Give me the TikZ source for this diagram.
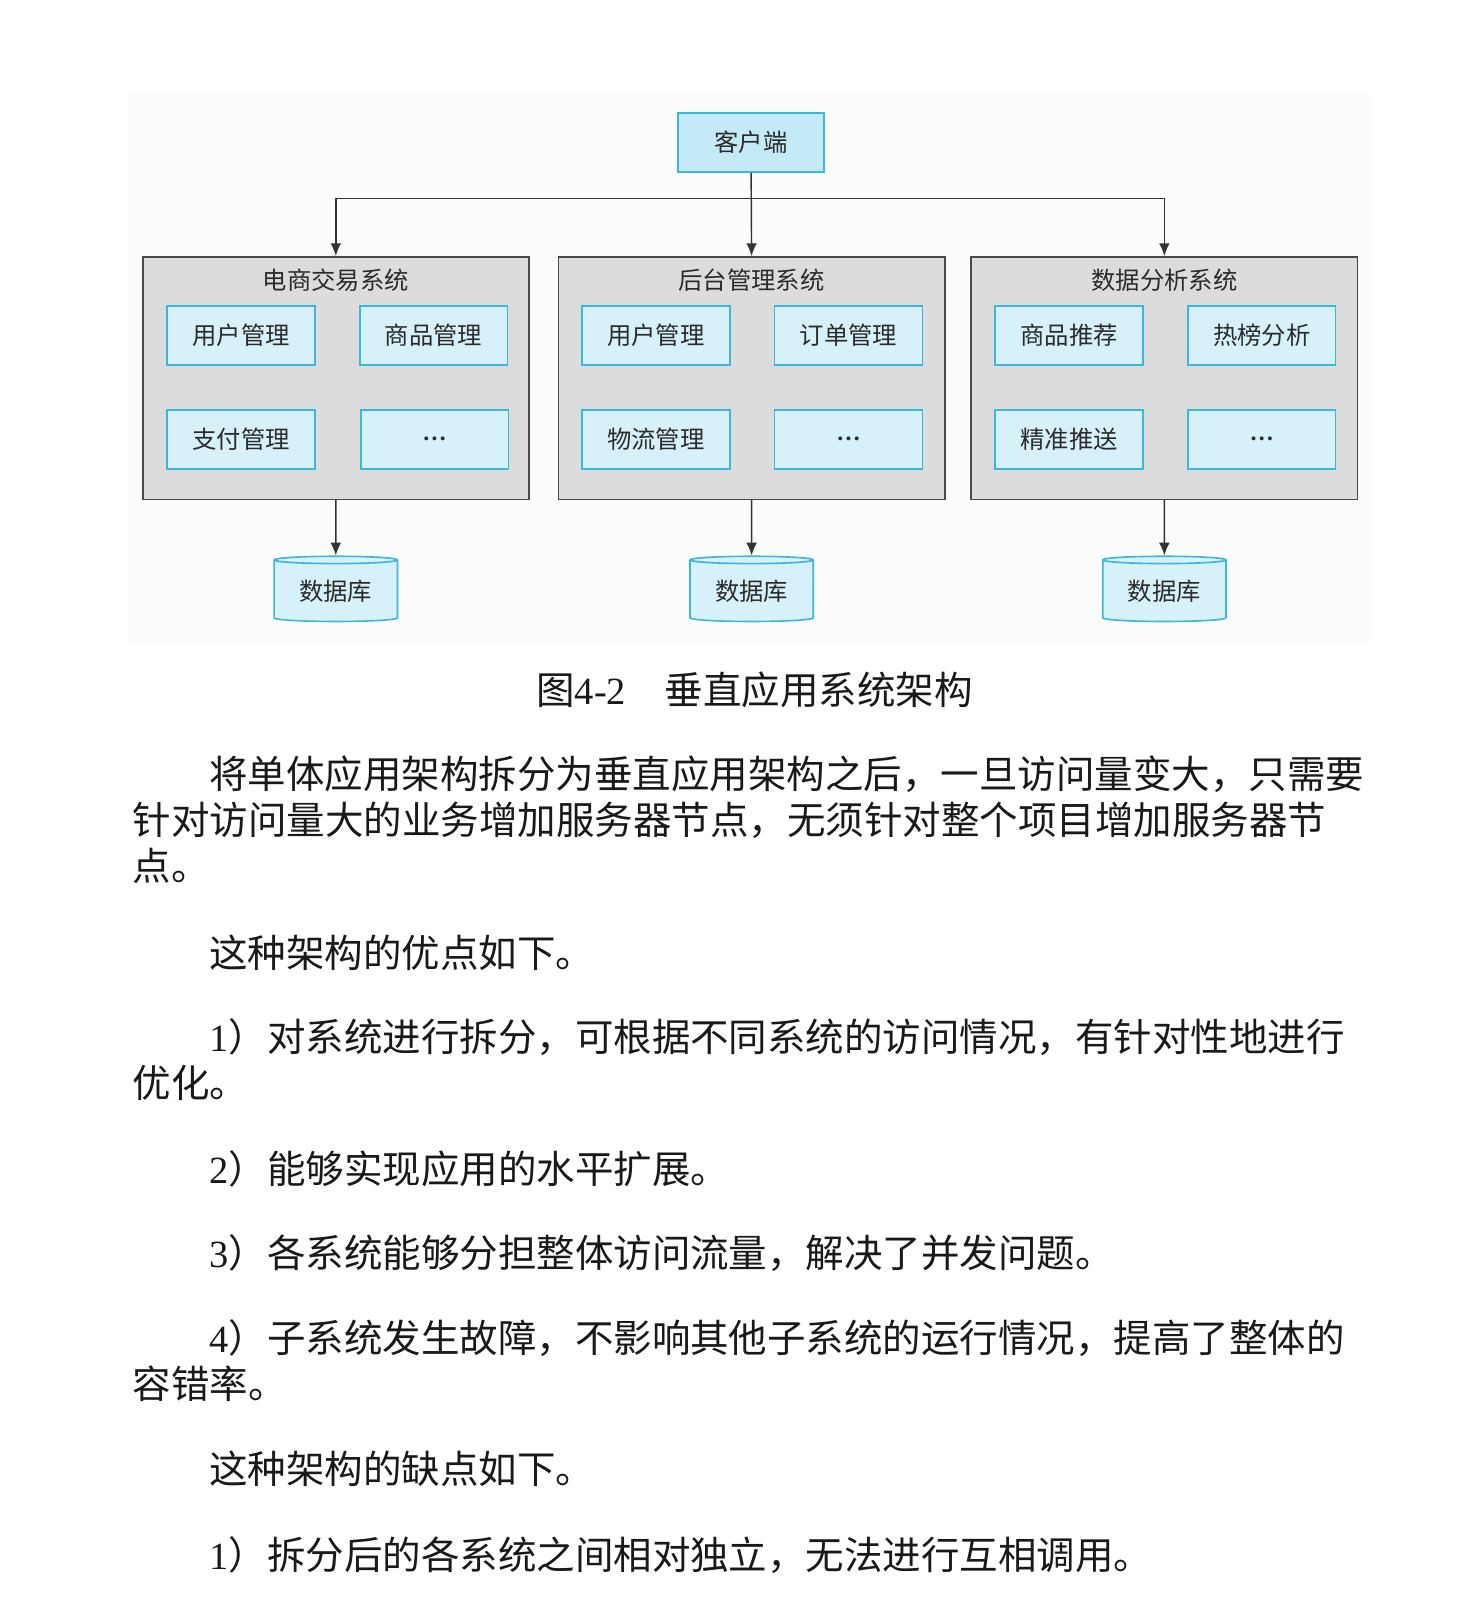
\documentclass[tikz,border=0pt]{standalone}
\usepackage{fontspec}
\setmainfont{Liberation Serif}
\newfontfamily\cjk{Noto Sans CJK SC}
\usepackage{xcolor}
\usepackage{tikz}
\usetikzlibrary{shapes.geometric, arrows.meta, positioning}

\definecolor{clientfill}{HTML}{C4EAF7}
\definecolor{modfill}{HTML}{D6F1F9}
\definecolor{cyanline}{HTML}{3DB6DA}
\definecolor{sysfill}{HTML}{DCDCDC}
\definecolor{sysline}{HTML}{4A4A4A}
\definecolor{figbg}{HTML}{FCFCFC}
\definecolor{inktext}{HTML}{2B2B2B}

\tikzset{
  clientbox/.style={
    draw=cyanline, fill=clientfill, line width=0.9pt, inner sep=0pt,
    minimum width=2.86cm, minimum height=1.16cm,
    font={\cjk\fontsize{13.6pt}{16pt}\selectfont}, text=inktext
  },
  modbox/.style={
    draw=cyanline, fill=modfill, line width=0.9pt, inner sep=0pt,
    minimum width=2.9cm, minimum height=1.16cm,
    font={\cjk\fontsize{13.6pt}{16pt}\selectfont}, text=inktext
  },
  sysbox/.style={
    draw=sysline, fill=sysfill, line width=0.9pt,
    minimum width=7.58cm, minimum height=4.76cm
  },
  systitle/.style={
    inner sep=0pt, font={\cjk\fontsize{13.6pt}{16pt}\selectfont}, text=inktext
  },
  dbnode/.style={
    cylinder, shape border rotate=90, aspect=0.1, draw=cyanline, fill=modfill,
    line width=0.9pt, inner sep=0pt, minimum width=2.42cm, minimum height=1.28cm,
    font={\cjk\fontsize{13.6pt}{16pt}\selectfont}, text=inktext
  },
  flowarrow/.style={
    -{Latex[length=2.5mm, width=2.1mm]}, line width=0.8pt, color=black!80
  },
  bodyline/.style={
    anchor=west, inner sep=0pt,
    font={\cjk\fontsize{21.5pt}{26pt}\selectfont}, text=black!90
  },
}
\newcommand{\moredots}{{\rmfamily\bfseries …}}

\begin{document}
\begin{tikzpicture}[x=0.02cm, y=-0.02cm]
  \useasboundingbox (0,0) rectangle (1441,1568);
  \fill[white] (0,0) rectangle (1441,1568);

  % === Figure area ===
  \fill[figbg] (127,91) rectangle (1345,631);

  % Client
  \node[clientbox] (client) at (737,140) {客户端};
  \coordinate (split) at (737,195);

  % === Three vertical systems ===
  \node[sysbox] (sys_trade) at (329.5,371) {};
  \node[systitle] (title_trade) at (329.5,275) {电商交易系统};
  \node[modbox] (trade_user) at (236.5,329) {用户管理};
  \node[modbox] (trade_goods) at (425.5,329) {商品管理};
  \node[modbox] (trade_pay) at (236.5,431) {支付管理};
  \node[modbox] (trade_more) at (426.5,431) {\moredots};

  \node[sysbox] (sys_admin) at (737.5,371) {};
  \node[systitle] (title_admin) at (737.5,275) {后台管理系统};
  \node[modbox] (admin_user) at (643.5,329) {用户管理};
  \node[modbox] (admin_order) at (832.5,329) {订单管理};
  \node[modbox] (admin_ship) at (643.5,431) {物流管理};
  \node[modbox] (admin_more) at (832.5,431) {\moredots};

  \node[sysbox] (sys_data) at (1142.5,371) {};
  \node[systitle] (title_data) at (1142.5,275) {数据分析系统};
  \node[modbox] (data_recommend) at (1049,329) {商品推荐};
  \node[modbox] (data_hot) at (1238,329) {热榜分析};
  \node[modbox] (data_push) at (1049,431) {精准推送};
  \node[modbox] (data_more) at (1238,431) {\moredots};

  % Databases
  \node[dbnode] (db_trade) at (329.5,580) {数据库};
  \node[dbnode] (db_admin) at (737.5,580) {数据库};
  \node[dbnode] (db_data) at (1142.5,580) {数据库};

  % === Connectors ===
  \draw[flowarrow] (client.south) -- (sys_admin.north);
  \draw[flowarrow] (split) -| (sys_trade.north);
  \draw[flowarrow] (split) -| (sys_data.north);
  \draw[flowarrow] (sys_trade.south) -- (db_trade.north);
  \draw[flowarrow] (sys_admin.south) -- (db_admin.north);
  \draw[flowarrow] (sys_data.south) -- (db_data.north);

  % === Caption and text ===
  \node[bodyline] (caption) at (526,677) {图{\rmfamily 4-2}　垂直应用系统架构};

  \node[bodyline] (para1a) at (205,760) {将单体应用架构拆分为垂直应用架构之后，一旦访问量变大，只需要};
  \node[bodyline] (para1b) at (130,805) {针对访问量大的业务增加服务器节点，无须针对整个项目增加服务器节};
  \node[bodyline] (para1c) at (130,850) {点。};

  \node[bodyline] (pros) at (205,935) {这种架构的优点如下。};
  \node[bodyline] (pro1a) at (205,1018) {{\rmfamily 1}）对系统进行拆分，可根据不同系统的访问情况，有针对性地进行};
  \node[bodyline] (pro1b) at (130,1063) {优化。};
  \node[bodyline] (pro2) at (205,1147) {{\rmfamily 2}）能够实现应用的水平扩展。};
  \node[bodyline] (pro3) at (205,1230) {{\rmfamily 3}）各系统能够分担整体访问流量，解决了并发问题。};
  \node[bodyline] (pro4a) at (205,1313) {{\rmfamily 4}）子系统发生故障，不影响其他子系统的运行情况，提高了整体的};
  \node[bodyline] (pro4b) at (130,1358) {容错率。};

  \node[bodyline] (cons) at (205,1441) {这种架构的缺点如下。};
  \node[bodyline] (con1) at (205,1526) {{\rmfamily 1}）拆分后的各系统之间相对独立，无法进行互相调用。};
\end{tikzpicture}
\end{document}
